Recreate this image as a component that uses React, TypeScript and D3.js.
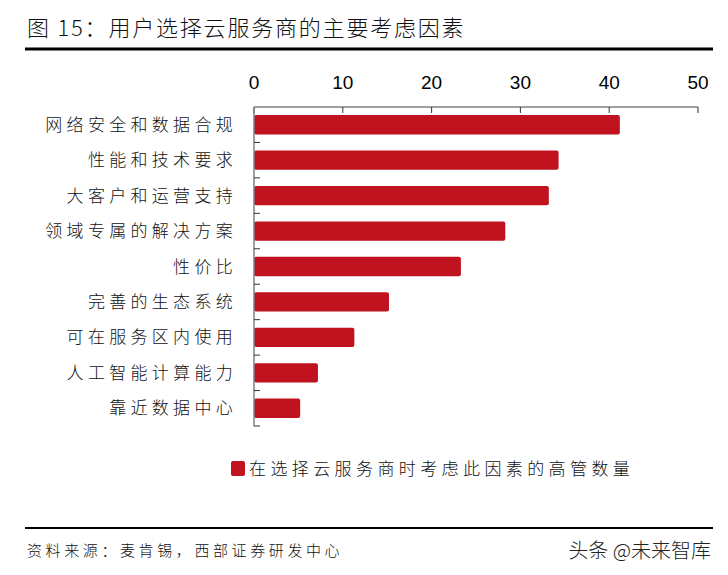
import React from "react";
import * as d3 from "d3";

const categories = [
  "网络安全和数据合规",
  "性能和技术要求",
  "大客户和运营支持",
  "领域专属的解决方案",
  "性价比",
  "完善的生态系统",
  "可在服务区内使用",
  "人工智能计算能力",
  "靠近数据中心",
];
const values = [41.2, 34.3, 33.2, 28.3, 23.3, 15.2, 11.3, 7.2, 5.2];
const xTicks = [0, 10, 20, 30, 40, 50];
const title = "图 15：用户选择云服务商的主要考虑因素";
const legendLabel = "在选择云服务商时考虑此因素的高管数量";
const source = "资料来源：麦肯锡，西部证券研发中心";
const watermark = "头条 @未来智库";

const W = 728;
const H = 575;
const RED = "#C0121F";
const SERIF = "'Noto Sans CJK SC', sans-serif";

export default function App() {
  const x = d3.scaleLinear().domain([0, 50]).range([254, 698]);
  const y = d3.scaleBand<string>().domain(categories).range([107, 426]).padding(0);
  const bw = y.bandwidth();
  const barH = bw * 0.545;
  const off = (bw - barH) / 2;
  const boundaries = categories.map((c) => (y(c) as number) + bw);

  return (
    <svg
      width={W}
      height={H}
      style={{ position: "absolute", left: 0, top: 0, background: "#fff" }}
    >
      <text x={27} y={36} fontFamily={SERIF} fontSize={22} letterSpacing={1.8} fill="#111" fontWeight={300}>
        {title}
      </text>
      <line x1={25} x2={713} y1={49} y2={49} stroke="#000" strokeWidth={3} />

      {/* top axis */}
      {xTicks.map((t) => (
        <text
          key={t}
          x={x(t)}
          y={89}
          textAnchor="middle"
          fontFamily="'Liberation Sans', Arial, sans-serif"
          fontSize={19}
          fill="#000"
        >
          {t}
        </text>
      ))}
      <line x1={x(0)} x2={x(50)} y1={107} y2={107} stroke="#808080" strokeWidth={1.5} />
      {xTicks.map((t) => (
        <line key={"t" + t} x1={x(t)} x2={x(t)} y1={107} y2={113} stroke="#333" strokeWidth={1} />
      ))}

      {/* bars */}
      {categories.map((c, i) => (
        <rect
          key={c}
          x={x(0)}
          y={(y(c) as number) + off}
          width={x(values[i]) - x(0)}
          height={barH}
          rx={2}
          fill={RED}
        />
      ))}

      {/* left axis */}
      <line x1={x(0)} x2={x(0)} y1={107} y2={426} stroke="#808080" strokeWidth={1.5} />
      {boundaries.map((b, i) => (
        <line key={"b" + i} x1={x(0)} x2={x(0) + 6} y1={b} y2={b} stroke="#333" strokeWidth={1} />
      ))}

      {/* category labels */}
      {categories.map((c) => (
        <text
          key={"l" + c}
          x={237}
          y={(y(c) as number) + bw / 2 + 6}
          textAnchor="end"
          fontFamily={SERIF}
          fontSize={17}
          letterSpacing={4.3}
          fill="#111"
          fontWeight={300}
        >
          {c}
        </text>
      ))}

      {/* legend */}
      <rect x={231} y={461} width={14} height={15} rx={2} fill={RED} />
      <text x={249} y={475} fontFamily={SERIF} fontSize={17} letterSpacing={4.4} fill="#111" fontWeight={300}>
        {legendLabel}
      </text>

      {/* footer */}
      <line x1={25} x2={713} y1={528} y2={528} stroke="#000" strokeWidth={2} />
      <text x={27} y={556} fontFamily={SERIF} fontSize={15} letterSpacing={3.6} fill="#111" fontWeight={300}>
        {source}
      </text>
      <text
        x={711}
        y={558}
        textAnchor="end"
        fontFamily="'Noto Sans CJK SC', sans-serif"
        fontSize={20}
        fill="#222"
        fontWeight={300}
      >
        {watermark}
      </text>
    </svg>
  );
}
